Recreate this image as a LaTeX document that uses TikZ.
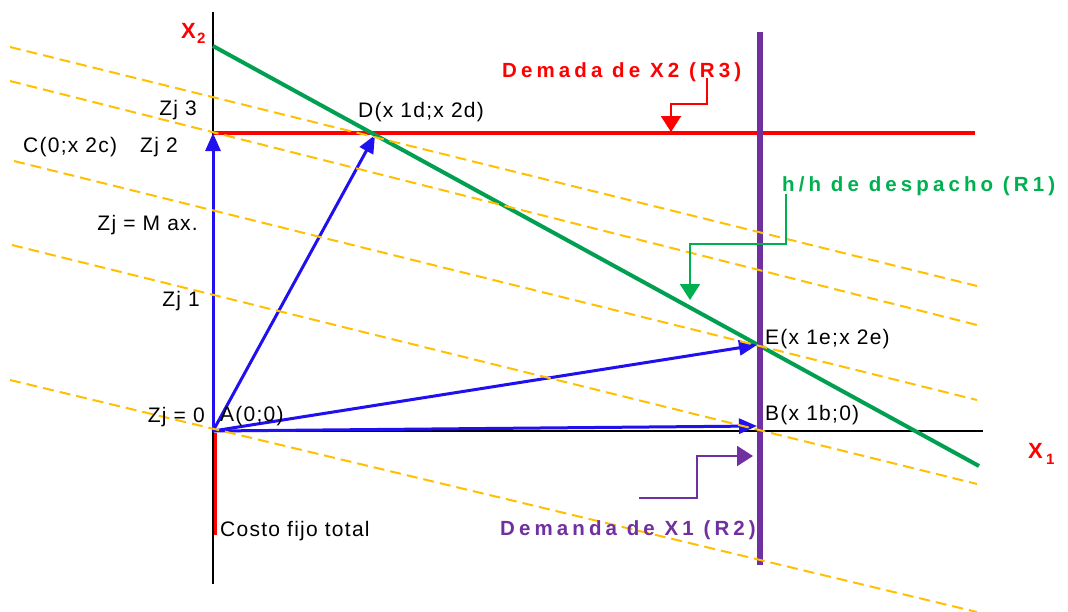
\documentclass[tikz,border=0pt]{standalone}
\usepackage{fontspec}
\setmainfont{Liberation Sans}
\usetikzlibrary{arrows.meta}
\definecolor{myblue}{RGB}{32,16,240}
\definecolor{mygreen}{RGB}{0,160,80}
\definecolor{lblgreen}{RGB}{0,176,80}
\definecolor{mypurple}{RGB}{112,48,160}
\definecolor{myorange}{RGB}{255,192,0}
\definecolor{myred}{RGB}{255,0,0}
\tikzset{
  axisline/.style={line width=2pt,black},
  isoline/.style={line width=2pt,myorange,dash pattern=on 11pt off 6pt},
  bluearrow/.style={line width=3pt,myblue,-{Triangle[length=18pt,width=15pt]}},
  callout/.style={line width=2pt,-{Triangle[length=16pt,width=20pt]}},
  lbl/.style={font=\fontsize{21}{25}\selectfont\addfontfeature{LetterSpace=6},inner sep=0pt},
  boldlbl/.style={font=\fontsize{20.5}{24}\selectfont\bfseries\addfontfeature{LetterSpace=20},inner sep=0pt,anchor=base west},
  axlbl/.style={font=\fontsize{22}{26}\selectfont\bfseries,text=myred,inner sep=0pt,anchor=base west},
  sublbl/.style={font=\fontsize{15}{17}\selectfont\bfseries,text=myred,inner sep=0pt,anchor=base west}
}
\begin{document}
\begin{tikzpicture}[x=1pt,y=-1pt]
\useasboundingbox (0,0) rectangle (1068,611);
\fill[white] (0,0) rectangle (1068,611);
% key points
\coordinate (A) at (213,431);
\coordinate (ytop) at (213,12);
\coordinate (ybot) at (213,584);
\coordinate (xend) at (983,431);
\coordinate (C) at (213,133);
\coordinate (D) at (375,135);
\coordinate (E) at (757,345);
\coordinate (B) at (757,426);
\coordinate (g1) at (213,46);
\coordinate (g2) at (979,466);
\coordinate (r1) at (213,133);
\coordinate (r2) at (975,133);
\coordinate (p1) at (760,32);
\coordinate (p2) at (760,565);
\coordinate (c1) at (215,433);
\coordinate (c2) at (215,535);
% axes
\draw[axisline] (ytop) -- (ybot);
\draw[axisline] (A) -- (xend);
\draw[line width=3pt,myred] (c1) -- (c2);
% constraint lines
\draw[line width=4pt,myred] (r1) -- (r2);
\draw[line width=4pt,mygreen] (g1) -- (g2);
\draw[line width=6pt,mypurple] (p1) -- (p2);
% blue vectors
\draw[bluearrow] (A) -- (C);
\draw[bluearrow] (A) -- (D);
\draw[bluearrow] (A) -- (E);
\draw[bluearrow] (A) -- (B);
% iso-lines
\coordinate (l1a) at (10,47);   \coordinate (l1b) at (977,286);
\coordinate (l2a) at (10,81);   \coordinate (l2b) at (977,325);
\coordinate (l3a) at (14,161);  \coordinate (l3b) at (977,400);
\coordinate (l4a) at (12,245);  \coordinate (l4b) at (977,484);
\coordinate (l5a) at (10,380);  \coordinate (l5b) at (977,612);
\draw[isoline] (l1a) -- (l1b);
\draw[isoline] (l2a) -- (l2b);
\draw[isoline] (l3a) -- (l3b);
\draw[isoline] (l4a) -- (l4b);
\draw[isoline] (l5a) -- (l5b);
% callouts
\coordinate (rc1) at (707,78);  \coordinate (rc2) at (671,132);
\draw[callout,myred] (rc1) -- (707,104) -- (671,104) -- (rc2);
\coordinate (gc1) at (786,194); \coordinate (gc2) at (690,300);
\draw[callout,lblgreen] (gc1) -- (786,244) -- (690,244) -- (gc2);
\coordinate (pc1) at (639,498); \coordinate (pc2) at (753,456);
\draw[callout,mypurple] (pc1) -- (697,498) -- (697,456) -- (pc2);
% labels
\node[boldlbl,text=myred] (lR3) at (502,77) {Demada de X2 (R3)};
\node[boldlbl,text=lblgreen] (lR1) at (782,191) {h/h de despacho (R1)};
\node[boldlbl,text=mypurple] (lR2) at (500,535) {Demanda de X1 (R2)};
\node[axlbl] (x2) at (181,38) {X};
\node[sublbl] (x2s) at (197,43) {2};
\node[axlbl] (x1) at (1028,458) {X};
\node[sublbl] (x1s) at (1046,464) {1};
\node[lbl,anchor=base east] (zj3) at (197,115) {Zj 3};
\node[lbl,anchor=base west] (cl) at (23,152) {C(0;x 2c)};
\node[lbl,anchor=base west] (zj2) at (140,152) {Zj 2};
\node[lbl,anchor=base east] (zjm) at (198,230) {Zj = M ax.};
\node[lbl,anchor=base east] (zj1) at (200,306) {Zj 1};
\node[lbl,anchor=base east] (zj0) at (205,422) {Zj = 0};
\node[lbl,anchor=base west] (al) at (220,421) {A(0;0)};
\node[lbl,anchor=base west] (dl) at (358,117) {D(x 1d;x 2d)};
\node[lbl,anchor=base west] (el) at (765,344) {E(x 1e;x 2e)};
\node[lbl,anchor=base west] (bl) at (765,420) {B(x 1b;0)};
\node[lbl,anchor=base west] (cft) at (220,536) {Costo fijo total};
\end{tikzpicture}
\end{document}
